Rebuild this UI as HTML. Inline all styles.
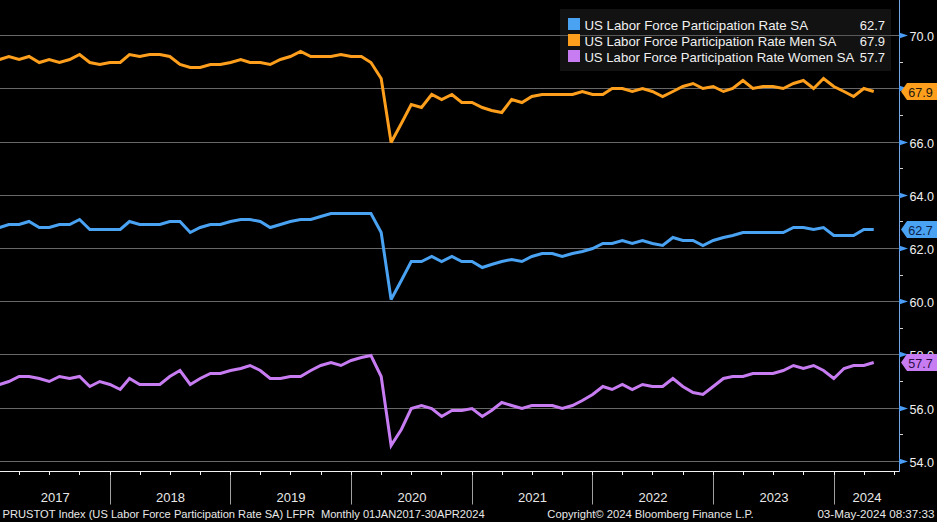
<!DOCTYPE html>
<html><head><meta charset="utf-8"><style>
html,body{margin:0;padding:0;background:#000;width:937px;height:522px;overflow:hidden}
svg{display:block}
text{font-family:"Liberation Sans",sans-serif}
.yr{font-size:13px;fill:#e8e8e8}
.ax{font-size:13.5px;fill:#f0f0f0}
.lg{font-size:13px;fill:#f0f0f0}
.vl{font-size:13.5px}
.ft{font-size:11px;fill:#e8e8e8;white-space:pre}
</style></head><body>
<svg width="937" height="522" viewBox="0 0 937 522">
<line x1="0" y1="35.5" x2="899.5" y2="35.5" stroke="#686868" stroke-width="1"/>
<line x1="0" y1="88.5" x2="899.5" y2="88.5" stroke="#686868" stroke-width="1"/>
<line x1="0" y1="142.5" x2="899.5" y2="142.5" stroke="#686868" stroke-width="1"/>
<line x1="0" y1="195.5" x2="899.5" y2="195.5" stroke="#686868" stroke-width="1"/>
<line x1="0" y1="248.5" x2="899.5" y2="248.5" stroke="#686868" stroke-width="1"/>
<line x1="0" y1="301.5" x2="899.5" y2="301.5" stroke="#686868" stroke-width="1"/>
<line x1="0" y1="354.5" x2="899.5" y2="354.5" stroke="#686868" stroke-width="1"/>
<line x1="0" y1="408.5" x2="899.5" y2="408.5" stroke="#686868" stroke-width="1"/>
<line x1="0" y1="461.5" x2="899.5" y2="461.5" stroke="#686868" stroke-width="1"/>
<line x1="0" y1="471.5" x2="900.0" y2="471.5" stroke="#f2f2f2" stroke-width="1"/>
<line x1="19.5" y1="471.5" x2="19.5" y2="475" stroke="#f2f2f2" stroke-width="1"/>
<line x1="49.5" y1="471.5" x2="49.5" y2="475" stroke="#f2f2f2" stroke-width="1"/>
<line x1="79.5" y1="471.5" x2="79.5" y2="475" stroke="#f2f2f2" stroke-width="1"/>
<line x1="110.5" y1="471.5" x2="110.5" y2="504.5" stroke="#a0a0a0" stroke-width="1"/>
<line x1="110.5" y1="471.5" x2="110.5" y2="475" stroke="#f2f2f2" stroke-width="1"/>
<line x1="140.5" y1="471.5" x2="140.5" y2="475" stroke="#f2f2f2" stroke-width="1"/>
<line x1="170.5" y1="471.5" x2="170.5" y2="475" stroke="#f2f2f2" stroke-width="1"/>
<line x1="200.5" y1="471.5" x2="200.5" y2="475" stroke="#f2f2f2" stroke-width="1"/>
<line x1="230.5" y1="471.5" x2="230.5" y2="504.5" stroke="#a0a0a0" stroke-width="1"/>
<line x1="230.5" y1="471.5" x2="230.5" y2="475" stroke="#f2f2f2" stroke-width="1"/>
<line x1="260.5" y1="471.5" x2="260.5" y2="475" stroke="#f2f2f2" stroke-width="1"/>
<line x1="290.5" y1="471.5" x2="290.5" y2="475" stroke="#f2f2f2" stroke-width="1"/>
<line x1="321.5" y1="471.5" x2="321.5" y2="475" stroke="#f2f2f2" stroke-width="1"/>
<line x1="351.5" y1="471.5" x2="351.5" y2="504.5" stroke="#a0a0a0" stroke-width="1"/>
<line x1="351.5" y1="471.5" x2="351.5" y2="475" stroke="#f2f2f2" stroke-width="1"/>
<line x1="381.5" y1="471.5" x2="381.5" y2="475" stroke="#f2f2f2" stroke-width="1"/>
<line x1="411.5" y1="471.5" x2="411.5" y2="475" stroke="#f2f2f2" stroke-width="1"/>
<line x1="441.5" y1="471.5" x2="441.5" y2="475" stroke="#f2f2f2" stroke-width="1"/>
<line x1="472.5" y1="471.5" x2="472.5" y2="504.5" stroke="#a0a0a0" stroke-width="1"/>
<line x1="472.5" y1="471.5" x2="472.5" y2="475" stroke="#f2f2f2" stroke-width="1"/>
<line x1="502.5" y1="471.5" x2="502.5" y2="475" stroke="#f2f2f2" stroke-width="1"/>
<line x1="532.5" y1="471.5" x2="532.5" y2="475" stroke="#f2f2f2" stroke-width="1"/>
<line x1="562.5" y1="471.5" x2="562.5" y2="475" stroke="#f2f2f2" stroke-width="1"/>
<line x1="592.5" y1="471.5" x2="592.5" y2="504.5" stroke="#a0a0a0" stroke-width="1"/>
<line x1="592.5" y1="471.5" x2="592.5" y2="475" stroke="#f2f2f2" stroke-width="1"/>
<line x1="622.5" y1="471.5" x2="622.5" y2="475" stroke="#f2f2f2" stroke-width="1"/>
<line x1="652.5" y1="471.5" x2="652.5" y2="475" stroke="#f2f2f2" stroke-width="1"/>
<line x1="683.5" y1="471.5" x2="683.5" y2="475" stroke="#f2f2f2" stroke-width="1"/>
<line x1="713.5" y1="471.5" x2="713.5" y2="504.5" stroke="#a0a0a0" stroke-width="1"/>
<line x1="713.5" y1="471.5" x2="713.5" y2="475" stroke="#f2f2f2" stroke-width="1"/>
<line x1="743.5" y1="471.5" x2="743.5" y2="475" stroke="#f2f2f2" stroke-width="1"/>
<line x1="773.5" y1="471.5" x2="773.5" y2="475" stroke="#f2f2f2" stroke-width="1"/>
<line x1="803.5" y1="471.5" x2="803.5" y2="475" stroke="#f2f2f2" stroke-width="1"/>
<line x1="834.5" y1="471.5" x2="834.5" y2="504.5" stroke="#a0a0a0" stroke-width="1"/>
<line x1="834.5" y1="471.5" x2="834.5" y2="475" stroke="#f2f2f2" stroke-width="1"/>
<line x1="864.5" y1="471.5" x2="864.5" y2="475" stroke="#f2f2f2" stroke-width="1"/>
<line x1="894.5" y1="471.5" x2="894.5" y2="475" stroke="#f2f2f2" stroke-width="1"/>
<text x="55.2" y="501.5" class="yr" text-anchor="middle">2017</text>
<text x="170.5" y="501.5" class="yr" text-anchor="middle">2018</text>
<text x="291.0" y="501.5" class="yr" text-anchor="middle">2019</text>
<text x="412.0" y="501.5" class="yr" text-anchor="middle">2020</text>
<text x="532.5" y="501.5" class="yr" text-anchor="middle">2021</text>
<text x="653.0" y="501.5" class="yr" text-anchor="middle">2022</text>
<text x="774.0" y="501.5" class="yr" text-anchor="middle">2023</text>
<text x="867.0" y="501.5" class="yr" text-anchor="middle">2024</text>
<path d="M-0.37,59.5 L8.88,56.5 L19.12,59.5 L29.03,56.5 L39.27,62.5 L49.19,59.5 L59.43,62.5 L69.67,59.5 L79.58,54.5 L89.82,62.5 L99.73,64.5 L109.97,62.5 L120.21,62.5 L129.46,54.5 L139.70,56.5 L149.61,54.5 L159.85,54.5 L169.76,56.5 L180.00,64.5 L190.24,67.5 L200.16,67.5 L210.40,64.5 L220.31,64.5 L230.55,62.5 L240.79,59.5 L250.04,62.5 L260.28,62.5 L270.19,64.5 L280.43,59.5 L290.34,56.5 L300.58,51.5 L310.82,56.5 L320.73,56.5 L330.97,56.5 L340.88,54.5 L351.13,56.5 L361.37,56.5 L370.95,62.5 L381.19,78.5 L391.10,142.5 L401.34,123.5 L411.25,104.5 L421.49,107.5 L431.73,94.5 L441.64,99.5 L451.88,94.5 L461.79,102.5 L472.03,102.5 L482.27,107.5 L491.52,110.5 L501.76,112.5 L511.68,99.5 L521.92,102.5 L531.83,96.5 L542.07,94.5 L552.31,94.5 L562.22,94.5 L572.46,94.5 L582.37,91.5 L592.61,94.5 L602.85,94.5 L612.10,88.5 L622.34,88.5 L632.25,91.5 L642.49,88.5 L652.40,91.5 L662.65,96.5 L672.89,91.5 L682.80,86.5 L693.04,83.5 L702.95,88.5 L713.19,86.5 L723.43,91.5 L732.68,88.5 L742.92,80.5 L752.83,88.5 L763.07,86.5 L772.98,86.5 L783.22,88.5 L793.46,83.5 L803.37,80.5 L813.62,88.5 L823.53,78.5 L833.77,86.5 L844.01,91.5 L853.59,96.5 L863.83,88.5 L873.74,91.5" fill="none" stroke="#fd9f1c" stroke-width="3" stroke-linejoin="miter" stroke-miterlimit="3"/>
<path d="M-0.37,227.5 L8.88,224.5 L19.12,224.5 L29.03,221.5 L39.27,227.5 L49.19,227.5 L59.43,224.5 L69.67,224.5 L79.58,219.5 L89.82,229.5 L99.73,229.5 L109.97,229.5 L120.21,229.5 L129.46,221.5 L139.70,224.5 L149.61,224.5 L159.85,224.5 L169.76,221.5 L180.00,221.5 L190.24,232.5 L200.16,227.5 L210.40,224.5 L220.31,224.5 L230.55,221.5 L240.79,219.5 L250.04,219.5 L260.28,221.5 L270.19,227.5 L280.43,224.5 L290.34,221.5 L300.58,219.5 L310.82,219.5 L320.73,216.5 L330.97,213.5 L340.88,213.5 L351.13,213.5 L361.37,213.5 L370.95,213.5 L381.19,232.5 L391.10,299.5 L401.34,280.5 L411.25,261.5 L421.49,261.5 L431.73,256.5 L441.64,261.5 L451.88,256.5 L461.79,261.5 L472.03,261.5 L482.27,267.5 L491.52,264.5 L501.76,261.5 L511.68,259.5 L521.92,261.5 L531.83,256.5 L542.07,253.5 L552.31,253.5 L562.22,256.5 L572.46,253.5 L582.37,251.5 L592.61,248.5 L602.85,243.5 L612.10,243.5 L622.34,240.5 L632.25,243.5 L642.49,240.5 L652.40,243.5 L662.65,245.5 L672.89,237.5 L682.80,240.5 L693.04,240.5 L702.95,245.5 L713.19,240.5 L723.43,237.5 L732.68,235.5 L742.92,232.5 L752.83,232.5 L763.07,232.5 L772.98,232.5 L783.22,232.5 L793.46,227.5 L803.37,227.5 L813.62,229.5 L823.53,227.5 L833.77,235.5 L844.01,235.5 L853.59,235.5 L863.83,229.5 L873.74,229.5" fill="none" stroke="#4aa2f2" stroke-width="3" stroke-linejoin="miter" stroke-miterlimit="3"/>
<path d="M-0.37,384.5 L8.88,381.5 L19.12,376.5 L29.03,376.5 L39.27,378.5 L49.19,381.5 L59.43,376.5 L69.67,378.5 L79.58,376.5 L89.82,386.5 L99.73,381.5 L109.97,384.5 L120.21,389.5 L129.46,378.5 L139.70,384.5 L149.61,384.5 L159.85,384.5 L169.76,376.5 L180.00,370.5 L190.24,384.5 L200.16,378.5 L210.40,373.5 L220.31,373.5 L230.55,370.5 L240.79,368.5 L250.04,365.5 L260.28,370.5 L270.19,378.5 L280.43,378.5 L290.34,376.5 L300.58,376.5 L310.82,370.5 L320.73,365.5 L330.97,362.5 L340.88,365.5 L351.13,360.5 L361.37,357.5 L370.95,355.5 L381.19,376.5 L391.10,445.5 L401.34,429.5 L411.25,408.5 L421.49,405.5 L431.73,408.5 L441.64,416.5 L451.88,410.5 L461.79,410.5 L472.03,408.5 L482.27,416.5 L491.52,410.5 L501.76,402.5 L511.68,405.5 L521.92,408.5 L531.83,405.5 L542.07,405.5 L552.31,405.5 L562.22,408.5 L572.46,405.5 L582.37,400.5 L592.61,394.5 L602.85,386.5 L612.10,389.5 L622.34,384.5 L632.25,389.5 L642.49,384.5 L652.40,386.5 L662.65,386.5 L672.89,378.5 L682.80,386.5 L693.04,392.5 L702.95,394.5 L713.19,386.5 L723.43,378.5 L732.68,376.5 L742.92,376.5 L752.83,373.5 L763.07,373.5 L772.98,373.5 L783.22,370.5 L793.46,365.5 L803.37,368.5 L813.62,365.5 L823.53,370.5 L833.77,378.5 L844.01,368.5 L853.59,365.5 L863.83,365.5 L873.74,362.5" fill="none" stroke="#c77cf2" stroke-width="3" stroke-linejoin="miter" stroke-miterlimit="3"/>
<line x1="899.5" y1="0" x2="899.5" y2="472.0" stroke="#74a4e4" stroke-width="1"/>
<path d="M899.0,32.5 L908.0,35.5 L899.0,38.5 Z" fill="#4a9cf5"/>
<text x="909.5" y="41" class="ax" textLength="24.5" lengthAdjust="spacingAndGlyphs">70.0</text>
<line x1="900" y1="62.5" x2="903" y2="62.5" stroke="#d0d0d0" stroke-width="1"/>
<path d="M899.0,85.5 L908.0,88.5 L899.0,91.5 Z" fill="#4a9cf5"/>
<text x="909.5" y="94" class="ax" textLength="24.5" lengthAdjust="spacingAndGlyphs">68.0</text>
<line x1="900" y1="115.5" x2="903" y2="115.5" stroke="#d0d0d0" stroke-width="1"/>
<path d="M899.0,139.5 L908.0,142.5 L899.0,145.5 Z" fill="#4a9cf5"/>
<text x="909.5" y="148" class="ax" textLength="24.5" lengthAdjust="spacingAndGlyphs">66.0</text>
<line x1="900" y1="168.5" x2="903" y2="168.5" stroke="#d0d0d0" stroke-width="1"/>
<path d="M899.0,192.5 L908.0,195.5 L899.0,198.5 Z" fill="#4a9cf5"/>
<text x="909.5" y="201" class="ax" textLength="24.5" lengthAdjust="spacingAndGlyphs">64.0</text>
<line x1="900" y1="221.5" x2="903" y2="221.5" stroke="#d0d0d0" stroke-width="1"/>
<path d="M899.0,245.5 L908.0,248.5 L899.0,251.5 Z" fill="#4a9cf5"/>
<text x="909.5" y="254" class="ax" textLength="24.5" lengthAdjust="spacingAndGlyphs">62.0</text>
<line x1="900" y1="275.5" x2="903" y2="275.5" stroke="#d0d0d0" stroke-width="1"/>
<path d="M899.0,298.5 L908.0,301.5 L899.0,304.5 Z" fill="#4a9cf5"/>
<text x="909.5" y="307" class="ax" textLength="24.5" lengthAdjust="spacingAndGlyphs">60.0</text>
<line x1="900" y1="328.5" x2="903" y2="328.5" stroke="#d0d0d0" stroke-width="1"/>
<path d="M899.0,351.5 L908.0,354.5 L899.0,357.5 Z" fill="#4a9cf5"/>
<text x="909.5" y="360" class="ax" textLength="24.5" lengthAdjust="spacingAndGlyphs">58.0</text>
<line x1="900" y1="381.5" x2="903" y2="381.5" stroke="#d0d0d0" stroke-width="1"/>
<path d="M899.0,405.5 L908.0,408.5 L899.0,411.5 Z" fill="#4a9cf5"/>
<text x="909.5" y="414" class="ax" textLength="24.5" lengthAdjust="spacingAndGlyphs">56.0</text>
<line x1="900" y1="434.5" x2="903" y2="434.5" stroke="#d0d0d0" stroke-width="1"/>
<path d="M899.0,458.5 L908.0,461.5 L899.0,464.5 Z" fill="#4a9cf5"/>
<text x="909.5" y="467" class="ax" textLength="24.5" lengthAdjust="spacingAndGlyphs">54.0</text>
<rect x="560" y="9" width="331" height="62" fill="#121212"/>
<line x1="560" y1="35.5" x2="891" y2="35.5" stroke="#5a5a5a" stroke-width="1"/>
<rect x="568" y="18" width="12" height="12" fill="#4aa2f2"/>
<text x="584.4" y="29.8" class="lg" textLength="223.7" lengthAdjust="spacingAndGlyphs">US Labor Force Participation Rate SA</text>
<text x="885" y="29.8" class="lg" text-anchor="end">62.7</text>
<rect x="568" y="34" width="12" height="12" fill="#fd9f1c"/>
<text x="584.4" y="45.8" class="lg" textLength="251.8" lengthAdjust="spacingAndGlyphs">US Labor Force Participation Rate Men SA</text>
<text x="885" y="45.8" class="lg" text-anchor="end">67.9</text>
<rect x="568" y="50" width="12" height="12" fill="#c77cf2"/>
<text x="584.4" y="61.8" class="lg" textLength="269.8" lengthAdjust="spacingAndGlyphs">US Labor Force Participation Rate Women SA</text>
<text x="885" y="61.8" class="lg" text-anchor="end">57.7</text>
<path d="M901,91.5 L907,83.0 L937,83.0 L937,100.0 L907,100.0 Z" fill="#fd9f1c"/><text x="908.3" y="96.8" class="vl" fill="#22180c" textLength="24.5" lengthAdjust="spacingAndGlyphs">67.9</text>
<path d="M901,229.5 L907,221.0 L937,221.0 L937,238.0 L907,238.0 Z" fill="#4aa2f2"/><text x="908.3" y="234.8" class="vl" fill="#0c1e48" textLength="24.5" lengthAdjust="spacingAndGlyphs">62.7</text>
<path d="M901,362.5 L907,354.0 L937,354.0 L937,371.0 L907,371.0 Z" fill="#c77cf2"/><text x="908.3" y="367.8" class="vl" fill="#2c0c44" textLength="24.5" lengthAdjust="spacingAndGlyphs">57.7</text>
<text x="2.6" y="517.5" class="ft" textLength="482" lengthAdjust="spacingAndGlyphs">PRUSTOT Index (US Labor Force Participation Rate SA) LFPR  Monthly 01JAN2017-30APR2024</text>
<text x="547.3" y="517.5" class="ft" textLength="206.4" lengthAdjust="spacingAndGlyphs">Copyright© 2024 Bloomberg Finance L.P.</text>
<text x="817.4" y="517.5" class="ft" textLength="117.1" lengthAdjust="spacingAndGlyphs">03-May-2024 08:37:33</text>
</svg>
</body></html>
